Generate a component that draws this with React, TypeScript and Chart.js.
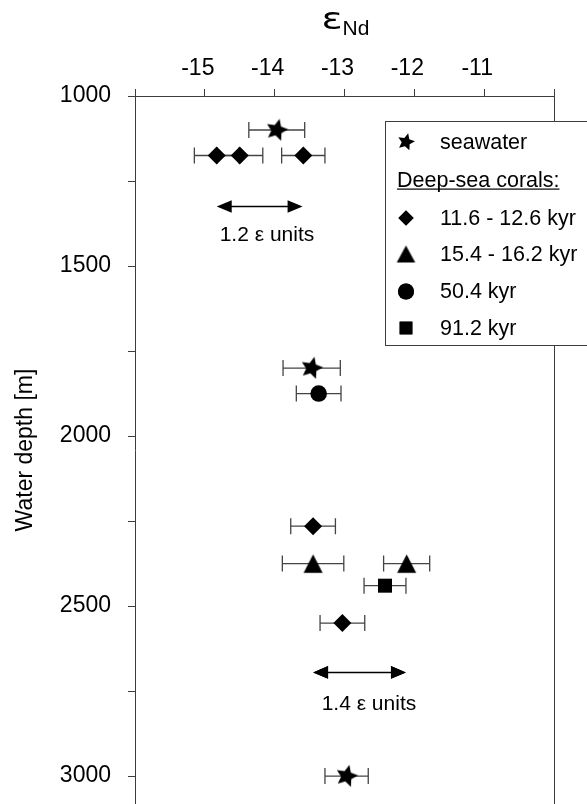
import { useEffect, useRef } from "react";
import { Chart, registerables } from "chart.js";
import type { Plugin } from "chart.js";
import { drawPoint } from "chart.js/helpers";

Chart.register(...registerables);

const FONT = "'Liberation Sans', Arial, sans-serif";
const AXIS = "#3c3c3c";
const HEIGHT = 804;

// axis ticks
const xTickLabels = [-15, -14, -13, -12, -11];
const yTickValues = [1000, 1250, 1500, 1750, 2000, 2250, 2500, 2750, 3000];
const yTickLabels = [1000, 1500, 2000, 2500, 3000];

// seawater
const seawaterX = [-13.97, -13.47, -12.97];
const seawaterDepth = [1100, 1800, 3000];
const seawaterErr = [0.4, 0.41, 0.31];

// deep-sea corals 11.6 - 12.6 kyr
const coralAX = [-14.83, -14.5, -13.59, -13.45, -13.03];
const coralADepth = [1175, 1175, 1175, 2265, 2550];
const coralAErr = [0.32, 0.33, 0.31, 0.32, 0.32];

// deep-sea corals 15.4 - 16.2 kyr
const coralBX = [-13.45, -12.11];
const coralBDepth = [2375, 2375];
const coralBErr = [0.44, 0.33];

// deep-sea corals 50.4 kyr
const coralCX = [-13.37];
const coralCDepth = [1875];
const coralCErr = [0.32];

// deep-sea corals 91.2 kyr
const coralDX = [-12.42];
const coralDDepth = [2440];
const coralDErr = [0.3];

const seriesLabels = ["seawater", "11.6 - 12.6 kyr", "15.4 - 16.2 kyr", "50.4 kyr", "91.2 kyr"];

// range arrows
const arrowFrom = [-14.83, -13.45];
const arrowTo = [-13.6, -12.12];
const arrowDepth = [1325, 2695];
const arrowText = ["1.2 ε units", "1.4 ε units"];
const arrowTextX = [-14.11, -12.65];
const arrowTextDepth = [1425, 2805];

const zip = (xs: number[], ys: number[], es: number[]) =>
  xs.map((x, i) => ({ x, y: ys[i], err: es[i] }));

function starCanvas(R: number) {
  const s = Math.ceil(R * 2 + 4);
  const c = document.createElement("canvas");
  c.width = s;
  c.height = s;
  const g = c.getContext("2d")!;
  g.translate(s / 2, s / 2);
  g.rotate((14 * Math.PI) / 180);
  g.beginPath();
  for (let i = 0; i < 10; i++) {
    const r = i % 2 === 0 ? R : R * 0.48;
    const a = -Math.PI / 2 + (i * Math.PI) / 5;
    g.lineTo(Math.cos(a) * r, Math.sin(a) * r);
  }
  g.closePath();
  g.fillStyle = "#000";
  g.fill();
  return c;
}

function triangleCanvas(w: number, h: number) {
  const c = document.createElement("canvas");
  c.width = Math.ceil(w + 4);
  c.height = Math.ceil(h + 4);
  const g = c.getContext("2d")!;
  g.translate(c.width / 2, c.height / 2);
  g.beginPath();
  g.moveTo(0, -h / 2);
  g.lineTo(w / 2, h / 2);
  g.lineTo(-w / 2, h / 2);
  g.closePath();
  g.fillStyle = "#000";
  g.fill();
  return c;
}

const errorBars: Plugin<"scatter"> = {
  id: "errorBars",
  beforeDatasetsDraw(chart) {
    const { ctx, chartArea } = chart;
    const x = chart.scales.x;
    const y = chart.scales.y;
    ctx.save();
    // right frame line
    ctx.strokeStyle = AXIS;
    ctx.lineWidth = 1;
    ctx.beginPath();
    ctx.moveTo(Math.round(chartArea.right) + 0.5, chartArea.top);
    ctx.lineTo(Math.round(chartArea.right) + 0.5, chartArea.bottom);
    ctx.stroke();

    ctx.strokeStyle = "#444";
    ctx.lineWidth = 1.3;
    chart.data.datasets.forEach((ds: any) => {
      ds.data.forEach((p: any) => {
        const x0 = x.getPixelForValue(p.x - p.err);
        const x1 = x.getPixelForValue(p.x + p.err);
        const py = y.getPixelForValue(p.y);
        ctx.beginPath();
        ctx.moveTo(x0, py);
        ctx.lineTo(x1, py);
        ctx.moveTo(x0, py - 8);
        ctx.lineTo(x0, py + 8);
        ctx.moveTo(x1, py - 8);
        ctx.lineTo(x1, py + 8);
        ctx.stroke();
      });
    });
    ctx.restore();
  },
};

const extras: Plugin<"scatter"> = {
  id: "extras",
  afterDraw(chart) {
    const { ctx, chartArea } = chart;
    const x = chart.scales.x;
    const y = chart.scales.y;
    ctx.save();

    // range arrows
    ctx.fillStyle = "#000";
    ctx.strokeStyle = "#000";
    ctx.lineWidth = 1.5;
    arrowFrom.forEach((from, i) => {
      const a = x.getPixelForValue(from);
      const b = x.getPixelForValue(arrowTo[i]);
      const py = y.getPixelForValue(arrowDepth[i]);
      ctx.beginPath();
      ctx.moveTo(a + 10, py);
      ctx.lineTo(b - 10, py);
      ctx.stroke();
      ctx.beginPath();
      ctx.moveTo(a, py);
      ctx.lineTo(a + 15, py - 6.3);
      ctx.lineTo(a + 15, py + 6.3);
      ctx.closePath();
      ctx.moveTo(b, py);
      ctx.lineTo(b - 15, py - 6.3);
      ctx.lineTo(b - 15, py + 6.3);
      ctx.closePath();
      ctx.fill();
      ctx.font = `21px ${FONT}`;
      ctx.textAlign = "center";
      ctx.textBaseline = "alphabetic";
      ctx.fillText(arrowText[i], x.getPixelForValue(arrowTextX[i]), y.getPixelForValue(arrowTextDepth[i]));
    });

    // top title
    const cx = (chartArea.left + chartArea.right) / 2;
    ctx.textBaseline = "alphabetic";
    ctx.save();
    ctx.translate(cx - 2, 29);
    ctx.scale(1.3, 1);
    ctx.textAlign = "right";
    ctx.font = `30px 'DejaVu Sans', sans-serif`;
    ctx.fillText("ε", 0, 0);
    ctx.restore();
    ctx.textAlign = "left";
    ctx.font = `21px ${FONT}`;
    ctx.fillText("Nd", cx - 2, 35);

    // legend
    ctx.fillStyle = "#fff";
    ctx.fillRect(385.5, 121.5, 240, 224);
    ctx.strokeStyle = AXIS;
    ctx.lineWidth = 1;
    ctx.strokeRect(385.5, 121.5, 240, 224);

    const rows = [142, 218, 254, 291.5, 328];
    const styles: any[] = [
      { pointStyle: starCanvas(9), radius: 8 },
      { pointStyle: "rectRot", radius: 7.5 },
      { pointStyle: triangleCanvas(18.5, 17), radius: 8 },
      { pointStyle: "circle", radius: 8 },
      { pointStyle: "rect", radius: 9 },
    ];
    ctx.font = `21.5px ${FONT}`;
    ctx.textBaseline = "middle";
    ctx.textAlign = "left";
    seriesLabels.forEach((label, i) => {
      ctx.fillStyle = "#000";
      ctx.strokeStyle = "#000";
      drawPoint(ctx, { ...styles[i], rotation: 0, borderWidth: 0 }, 406, rows[i]);
      ctx.fillStyle = "#000";
      ctx.fill();
      ctx.fillText(label, 440, rows[i] + 1);
    });
    const header = "Deep-sea corals:";
    ctx.fillText(header, 397, 181);
    const w = ctx.measureText(header).width;
    ctx.fillRect(397, 188.5, w, 1.2);

    ctx.restore();
  },
};

export default function App() {
  const wrapRef = useRef<HTMLDivElement>(null);
  const canvasRef = useRef<HTMLCanvasElement>(null);
  const chartRef = useRef<Chart | null>(null);

  useEffect(() => {
    if (!canvasRef.current || !wrapRef.current) return;
    chartRef.current?.destroy();

    const point = (style: any, radius: number) => ({
      pointStyle: style,
      pointRadius: radius,
      backgroundColor: "#000",
      borderColor: "#000",
      borderWidth: 0,
      showLine: false,
    });

    const chart = new Chart(canvasRef.current, {
      type: "scatter",
      data: {
        datasets: [
          { label: seriesLabels[0], data: zip(seawaterX, seawaterDepth, seawaterErr), ...point(starCanvas(11.5), 10) },
          { label: seriesLabels[1], data: zip(coralAX, coralADepth, coralAErr), ...point("rectRot", 9) },
          { label: seriesLabels[2], data: zip(coralBX, coralBDepth, coralBErr), ...point(triangleCanvas(19, 18.5), 10) },
          { label: seriesLabels[3], data: zip(coralCX, coralCDepth, coralCErr), ...point("circle", 8.3) },
          { label: seriesLabels[4], data: zip(coralDX, coralDDepth, coralDErr), ...point("rect", 9.9) },
        ] as any,
      },
      options: {
        animation: false,
        responsive: true,
        maintainAspectRatio: false,
        layout: { padding: { left: 0, right: 33, top: 0, bottom: 0 } },
        plugins: {
          legend: { display: false },
          tooltip: { enabled: false },
        },
        scales: {
          x: {
            type: "linear",
            position: "top",
            min: -16,
            max: -10,
            ticks: {
              stepSize: 1,
              autoSkip: false,
              maxRotation: 0,
              padding: 7,
              labelOffset: -7,
              color: "#000",
              font: { family: FONT, size: 23 },
              callback: (v) => (xTickLabels.includes(Number(v)) ? String(v) : ""),
            },
            grid: { drawOnChartArea: false, drawTicks: true, tickLength: 7, color: AXIS, lineWidth: 1 },
            border: { display: true, color: AXIS, width: 1 },
            afterFit: (scale: any) => {
              scale.height = 96;
              scale.paddingLeft = 0;
              scale.paddingRight = 0;
            },
          },
          y: {
            type: "linear",
            reverse: true,
            min: 1000,
            max: 3082,
            afterBuildTicks: (scale: any) => {
              scale.ticks = yTickValues.map((value) => ({ value }));
            },
            ticks: {
              autoSkip: false,
              padding: 17,
              color: "#000",
              font: { family: FONT, size: 23 },
              callback: (v) => (yTickLabels.includes(Number(v)) ? String(v) : ""),
            },
            grid: { drawOnChartArea: false, drawTicks: true, tickLength: 7, color: AXIS, lineWidth: 1 },
            border: { display: true, color: AXIS, width: 1 },
            title: {
              display: true,
              text: "Water depth [m]",
              color: "#000",
              font: { family: FONT, size: 23 },
              padding: { top: 12, bottom: 0 },
            },
            afterFit: (scale: any) => {
              scale.width = 135;
              scale.paddingTop = 0;
              scale.paddingBottom = 0;
            },
          },
        },
      },
      plugins: [errorBars, extras],
    });
    chartRef.current = chart;

    // the plot runs off the bottom edge of the page, so let the canvas grow
    // by whatever bottom padding the layout keeps
    const gap = chart.height - chart.chartArea.bottom;
    if (gap > 0) {
      wrapRef.current.style.height = `${HEIGHT + gap}px`;
      chart.resize();
    }

    return () => {
      chartRef.current?.destroy();
      chartRef.current = null;
    };
  }, []);

  return (
    <div
      ref={wrapRef}
      style={{ position: "fixed", left: 0, top: 0, width: 587, height: HEIGHT, background: "#fff" }}
    >
      <canvas ref={canvasRef} />
    </div>
  );
}
